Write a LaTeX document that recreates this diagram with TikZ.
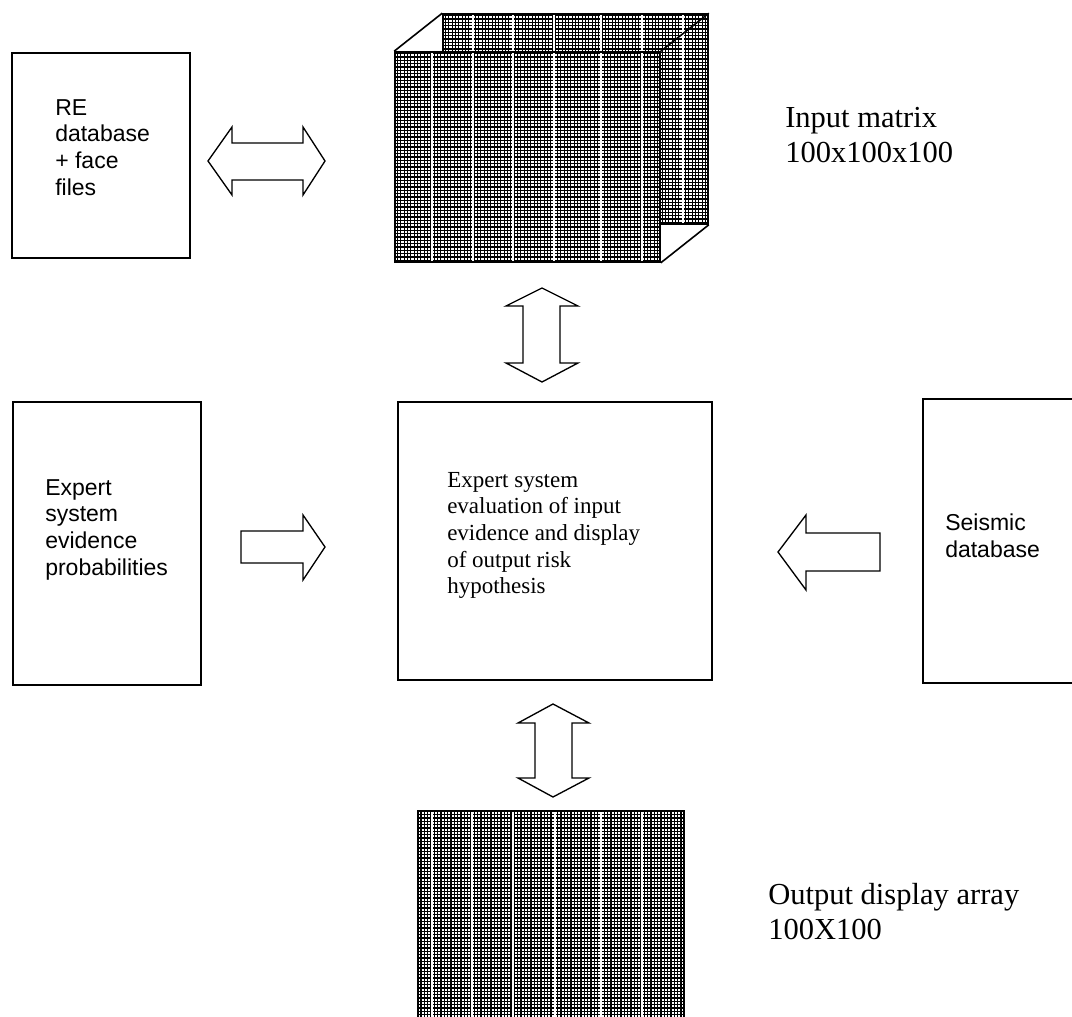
\documentclass[tikz,border=0pt]{standalone}
\usepackage{fontspec}
\setmainfont{Liberation Serif}
\setsansfont{Liberation Sans}
\usetikzlibrary{positioning}

\begin{document}
\begin{tikzpicture}[x=0.75pt, y=-0.75pt,
    box/.style={draw, line width=1.2pt, inner sep=0pt},
    gridface/.style={draw, line width=1.2pt, fill=white, inner sep=0pt,
        path picture={
            \draw[line width=0.85pt, step=2.5pt] (path picture bounding box.south west) grid (path picture bounding box.north east);
            \foreach \sx in {#1}
                \draw[white, line width=1pt] ([xshift=\sx*0.75pt]path picture bounding box.south west)
                    -- ([xshift=\sx*0.75pt]path picture bounding box.north west);
        }},
    sanstext/.style={font=\sffamily\fontsize{17.25}{20}\selectfont, align=left, inner sep=0pt, anchor=north west},
    sertext/.style={font=\fontsize{17.25}{20}\selectfont, align=left, inner sep=0pt, anchor=north west},
    bigtext/.style={font=\fontsize{22.9}{26.25}\selectfont, align=left, inner sep=0pt, anchor=north west},
    fatarrow/.style={draw, line width=1pt, fill=white, line join=miter},
    edge/.style={line width=1.2pt}]
    \useasboundingbox (0,0) rectangle (1072,1017);

    \node[box, minimum width=133.5pt, minimum height=153.75pt] (rebox) at (101,155.5) {};
    \node[box, minimum width=141pt, minimum height=212.25pt] (evbox) at (107,543.5) {};
    \node[box, minimum width=235.5pt, minimum height=208.5pt] (esbox) at (555,541) {};
    \node[box, minimum width=125.25pt, minimum height=213pt] (sebox) at (1006.5,541) {};

    \node[gridface={30,70,111,158,199,240}, minimum width=198.75pt, minimum height=157.5pt] (back) at (575.5,119) {};
    \node[gridface={37,78,118,159,206,247}, minimum width=198.75pt, minimum height=157.5pt] (front) at (527.5,157) {};
    \draw[edge] (front.north west) -- (back.north west);
    \draw[edge] (front.north east) -- (back.north east);
    \draw[edge] (front.south east) -- (back.south east);
    \node[gridface={14,54,95,137,183,224}, minimum width=199.5pt, minimum height=160.5pt] (outarray) at (551,918) {};

    \node[sanstext] (retext) at (55,99) {RE\\database\\+ face\\files};
    \node[sanstext] (evtext) at (45,479) {Expert\\system\\evidence\\probabilities};
    \node[sertext] (estext) at (447,472) {Expert system\\evaluation of input\\evidence and display\\of output risk\\hypothesis};
    \node[sanstext] (setext) at (945,514) {Seismic\\database};
    \node[bigtext] (inlabel) at (785,107) {Input matrix\\100x100x100};
    \node[bigtext] (outlabel) at (768,883) {Output display array\\100X100};

    \draw[fatarrow] (208,161) -- (232,127) -- (232,143) -- (303,143) -- (303,127) -- (325,161)
        -- (303,195) -- (303,180) -- (232,180) -- (232,195) -- cycle;
    \draw[fatarrow] (542,288) -- (578,306) -- (560,306) -- (560,363) -- (578,363) -- (542,382)
        -- (506,363) -- (523,363) -- (523,306) -- (506,306) -- cycle;
    \draw[fatarrow] (241,531) -- (303,531) -- (303,515) -- (325,547) -- (303,580) -- (303,563)
        -- (241,563) -- cycle;
    \draw[fatarrow] (880,533) -- (806,533) -- (806,515) -- (778,552) -- (806,590) -- (806,571)
        -- (880,571) -- cycle;
    \draw[fatarrow] (553,704) -- (589,723) -- (572,723) -- (572,778) -- (589,778) -- (553,797)
        -- (518,778) -- (535,778) -- (535,723) -- (518,723) -- cycle;
\end{tikzpicture}
\end{document}
